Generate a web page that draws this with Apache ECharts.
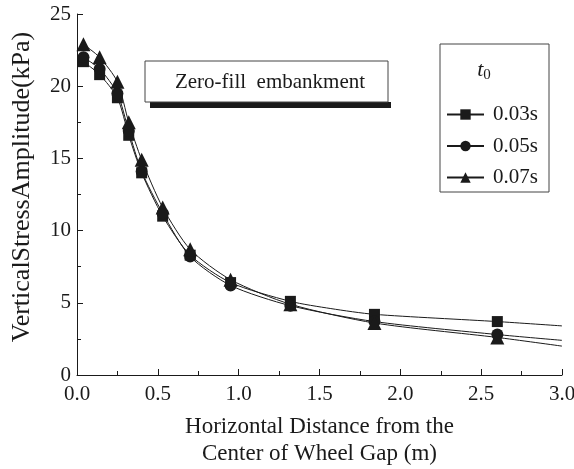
<!DOCTYPE html>
<html><head><meta charset="utf-8">
<script src="https://cdn.jsdelivr.net/npm/echarts@6/dist/echarts.min.js"></script>
<style>html,body{margin:0;padding:0;background:#fff}#c{width:574px;height:469px}</style>
</head><body><div id="c"></div>
<script>
// x positions (m); mk = 0 marks a curve-only point without a marker
var xs03 = [0.04, 0.14, 0.25, 0.32, 0.40, 0.53, 0.70, 0.95, 1.32, 1.57, 1.84, 2.60, 3.0];
var y03  = [21.7, 20.8, 19.2, 16.6, 14.0, 11.0, 8.3, 6.4, 5.1, 4.6, 4.2, 3.7, 3.4];
var mk03 = [1,1,1,1,1,1,1,1,1,0,1,1,0];
var xs05 = [0.04, 0.14, 0.25, 0.32, 0.40, 0.53, 0.70, 0.95, 1.32, 1.84, 2.60, 3.0];
var y05  = [22.0, 21.2, 19.5, 16.9, 14.1, 11.2, 8.2, 6.2, 4.8, 3.7, 2.8, 2.4];
var mk05 = [1,1,1,1,1,1,1,1,1,1,1,0];
var xs07 = [0.04, 0.14, 0.25, 0.32, 0.40, 0.53, 0.70, 0.95, 1.32, 1.84, 2.60, 3.0];
var y07  = [22.9, 22.0, 20.3, 17.5, 14.9, 11.6, 8.7, 6.6, 4.9, 3.6, 2.6, 2.0];
var mk07 = [1,1,1,1,1,1,1,1,1,1,1,0];
var seriesNames = ['0.03s', '0.05s', '0.07s'];
var xTicks = ['0.0','0.5','1.0','1.5','2.0','2.5','3.0'];
var yTicks = ['0','5','10','15','20','25'];

var FONT = '"Liberation Serif","Times New Roman",serif';
function build(xs, ys, mk){
  return xs.map(function(x,i){
    var d = {value:[x, ys[i]]};
    if(!mk[i]) d.symbol = 'none';
    return d;
  });
}
var chart = echarts.init(document.getElementById('c'));
var black = '#1a1a1a';
function ser(name, data, sym, size){
  return {name:name, type:'line', data:data, smooth:0.25, symbol:sym, symbolSize:size,
    showSymbol:true, lineStyle:{color:black,width:1}, itemStyle:{color:black}, z:3};
}
chart.setOption({
  animation:false,
  grid:{left:77, right:12, top:14, bottom:94, outerBoundsMode:'none', containLabel:false},
  xAxis:{type:'value', min:0, max:3, interval:0.5,
    name:'Horizontal Distance from the\nCenter of Wheel Gap (m)', nameLocation:'middle', nameGap:38,
    nameTextStyle:{fontFamily:FONT, fontSize:23, color:black, lineHeight:27},
    axisLine:{lineStyle:{color:black,width:1}},
    axisTick:{inside:true, length:6, lineStyle:{color:black}},
    minorTick:{show:true, splitNumber:2, length:4, lineStyle:{color:black}},
    splitLine:{show:false},
    axisLabel:{fontFamily:FONT, fontSize:21, color:black, margin:9,
      formatter:function(v){ return xTicks[Math.round(v/0.5)]; }}
  },
  yAxis:{type:'value', min:0, max:25, interval:5,
    axisLine:{lineStyle:{color:black,width:1}},
    axisTick:{inside:true, length:6, lineStyle:{color:black}},
    minorTick:{show:true, splitNumber:2, length:4, lineStyle:{color:black}},
    splitLine:{show:false},
    axisLabel:{fontFamily:FONT, fontSize:21, color:black, margin:6,
      formatter:function(v){ return yTicks[Math.round(v/5)]; }}
  },
  legend:{orient:'vertical', left:441, top:99, itemWidth:37, itemHeight:13, itemGap:10.5,
    data:seriesNames, textStyle:{fontFamily:FONT, fontSize:21, color:black, padding:[0,0,0,4]},
    inactiveColor:'#999'},
  graphic:[
    {type:'text', x:22, y:187, rotation:Math.PI/2,
      style:{text:'VerticalStressAmplitude(kPa)', font:'26px '+FONT, fill:black, align:'center', verticalAlign:'middle'}, z:3},
    {type:'rect', shape:{x:150, y:102, width:241, height:6}, style:{fill:black}, z:1},
    {type:'rect', shape:{x:145, y:61, width:243, height:41}, style:{fill:'#fff', stroke:'#444', lineWidth:1}, z:2},
    {type:'text', x:270, y:82, style:{text:'Zero-fill  embankment', font:'21px '+FONT, fill:black, align:'center', verticalAlign:'middle'}, z:3},
    {type:'rect', shape:{x:440, y:44, width:109, height:148}, style:{fill:'#fff', stroke:'#444', lineWidth:1}, z:0},
    {type:'text', x:484, y:70, style:{text:'{a|t}{b|0}', align:'center', verticalAlign:'middle',
      rich:{a:{font:'italic 22px '+FONT, fill:black}, b:{font:'15px '+FONT, fill:black, padding:[10,0,0,0]}}}, z:3}
  ],
  series:[
    ser(seriesNames[0], build(xs03,y03,mk03), 'rect', 11),
    ser(seriesNames[1], build(xs05,y05,mk05), 'circle', 12),
    ser(seriesNames[2], build(xs07,y07,mk07), 'triangle', 14)
  ]
});
</script></body></html>
